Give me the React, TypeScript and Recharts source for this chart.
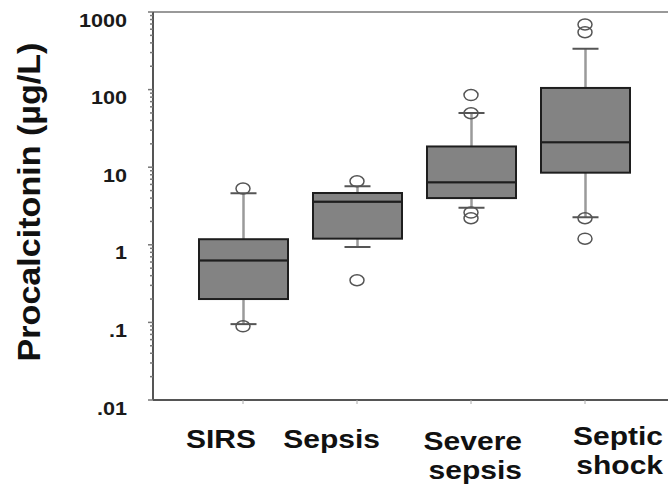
import React from 'react';
import {
  ComposedChart,
  Bar,
  Scatter,
  XAxis,
  YAxis,
  ReferenceLine
} from 'recharts';

// five-number summaries per group (µg/L)
const groups = ['SIRS', 'Sepsis', 'Severe sepsis', 'Septic shock'];
const lowWhisker = [0.095, 0.94, 3.0, 2.26];
const q1 = [0.2, 1.2, 4.0, 8.5];
const median = [0.63, 3.6, 6.4, 21];
const q3 = [1.18, 4.65, 18.5, 105];
const highWhisker = [4.6, 5.7, 50, 335];
const outliers = [
  [5.3, 0.089],
  [6.6, 0.35],
  [85, 49.5, 2.6, 2.2],
  [690, 550, 2.2, 1.2]
];

const yMajorTicks = [0.01, 0.1, 1, 10, 100, 1000];
const yTickLabels = ['.01', '.1', '1', '10', '100', '1000'];

const outlierKeys = ['out1', 'out2', 'out3', 'out4'];

// minor ticks at 2..9 within each decade
const yTicks: number[] = [];
yMajorTicks.forEach((d, i) => {
  yTicks.push(d);
  if (i < yMajorTicks.length - 1) {
    for (let m = 2; m <= 9; m++) yTicks.push(+(d * m).toPrecision(3));
  }
});

const data = groups.map((group, i) => {
  const row: Record<string, unknown> = {
    group,
    whisker: [lowWhisker[i], highWhisker[i]],
    lowerBox: [q1[i], median[i]],
    upperBox: [median[i], q3[i]]
  };
  outlierKeys.forEach((k, j) => {
    row[k] = outliers[i][j] ?? null;
  });
  return row;
});

const FONT = '"Liberation Sans", Arial, sans-serif';
const BOX_WIDTH = 89;

// hand placement of the category labels relative to their ticks
const labelRightEdge = [13, 23, 51, 78];
const labelBaseline = [44, 44, 46, 41];

const WhiskerShape = (props: any) => {
  const { x, y, width, height } = props;
  if (![x, y, width, height].every(Number.isFinite)) return null;
  const top = Math.min(y, y + height);
  const bottom = Math.max(y, y + height);
  const cx = x + width / 2;
  return (
    <g>
      <line x1={cx} x2={cx} y1={top} y2={bottom} stroke="#9a9a9a" strokeWidth={2.5} />
      <line x1={cx - 13} x2={cx + 13} y1={top} y2={top} stroke="#555" strokeWidth={2} />
      <line x1={cx - 13} x2={cx + 13} y1={bottom} y2={bottom} stroke="#555" strokeWidth={2} />
    </g>
  );
};

const BoxShape = (props: any) => {
  const { x, y, width, height } = props;
  if (![x, y, width, height].every(Number.isFinite)) return null;
  return (
    <rect
      x={x}
      y={Math.min(y, y + height)}
      width={width}
      height={Math.abs(height)}
      fill="#838383"
      stroke="#1e1e1e"
      strokeWidth={2}
    />
  );
};

const OutlierShape = (props: any) => {
  const { cx, cy } = props;
  if (!Number.isFinite(cx) || !Number.isFinite(cy)) return null;
  return <ellipse cx={cx} cy={cy} rx={7} ry={5.5} fill="none" stroke="#555" strokeWidth={1.5} />;
};

const YTick = (props: any) => {
  const { x, y, payload } = props;
  const idx = yMajorTicks.indexOf(payload.value);
  const major = idx >= 0;
  return (
    <g>
      <line x1={x - (major ? 5 : 3)} x2={x} y1={y} y2={y} stroke="#777" strokeWidth={1.5} />
      {major && (
        <text
          transform={`translate(${x - 26},${y + 14.5}) scale(1.2,1)`}
          textAnchor="end"
          fontFamily={FONT}
          fontWeight="bold"
          fontSize={18}
          fill="#1a1a1a"
        >
          {yTickLabels[idx]}
        </text>
      )}
    </g>
  );
};

const XTick = (props: any) => {
  const { x, y, payload, index } = props;
  const lines = String(payload.value).split(' ');
  const right = x + labelRightEdge[index];
  const firstBaseline = y + labelBaseline[index];
  return (
    <g>
      {lines.map((line, i) => (
        <text
          key={line}
          transform={`translate(${right},${firstBaseline + i * 29}) scale(1.2,1)`}
          textAnchor="end"
          fontFamily={FONT}
          fontWeight="bold"
          fontSize={25}
          fill="#111"
        >
          {line}
        </text>
      ))}
    </g>
  );
};

const ProcalcitoninChart: React.FC = () => {
  return (
    <div style={{ position: 'absolute', left: 0, top: 0, background: '#fff' }}>
      <ComposedChart
        width={668}
        height={490}
        data={data}
        margin={{ top: 12, right: 0, left: 0, bottom: 0 }}
        barSize={BOX_WIDTH}
        barGap={-BOX_WIDTH}
      >
        <XAxis
          dataKey="group"
          height={90}
          padding={{ left: 33, right: 26 }}
          axisLine={{ stroke: '#555', strokeWidth: 2 }}
          tickLine={{ stroke: '#aaa' }}
          tickSize={4}
          tickMargin={0}
          tick={<XTick />}
          interval={0}
        />
        <YAxis
          type="number"
          scale="log"
          domain={[0.01, 1000]}
          allowDataOverflow
          ticks={yTicks}
          interval={0}
          width={153}
          axisLine={{ stroke: '#555', strokeWidth: 2 }}
          tickLine={false}
          tickSize={0}
          tickMargin={0}
          tick={<YTick />}
        />
        <ReferenceLine y={1000} stroke="#999" strokeWidth={2} />
        <Bar dataKey="whisker" shape={<WhiskerShape />} isAnimationActive={false} />
        <Bar dataKey="lowerBox" shape={<BoxShape />} isAnimationActive={false} />
        <Bar dataKey="upperBox" shape={<BoxShape />} isAnimationActive={false} />
        {outlierKeys.map((k) => (
          <Scatter key={k} dataKey={k} shape={<OutlierShape />} isAnimationActive={false} />
        ))}
        <text
          transform="translate(40,202) rotate(-90) scale(1.1,1)"
          textAnchor="middle"
          fontFamily={FONT}
          fontWeight="bold"
          fontSize={31}
          fill="#111"
        >
          Procalcitonin (µg/L)
        </text>
      </ComposedChart>
    </div>
  );
};

export default function App() {
  return <ProcalcitoninChart />;
}
